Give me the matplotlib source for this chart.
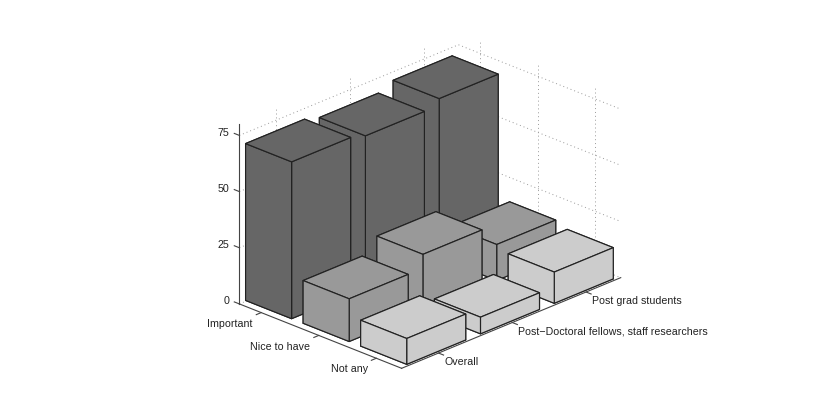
#!/usr/bin/env python3
"""3D bar chart: importance by career stage, drawn with mplot3d."""
import numpy as np
import matplotlib
matplotlib.use("Agg")
import matplotlib.pyplot as plt
from mpl_toolkits.mplot3d import proj3d

plt.rcParams["font.family"] = ["Liberation Sans", "DejaVu Sans"]

importance = ["Important", "Nice to have", "Not any"]
groups = ["Overall", "Post\u2212Doctoral fellows, staff researchers", "Post grad students"]
z_ticks = [0, 25, 50, 75]

# rows follow importance, columns follow groups
important_vals = [69.8, 67.8, 70.8]
nice_vals = [19, 25.2, 16]
notany_vals = [11.5, 7.4, 13.9]
bar_colors = ["#666666", "#999999", "#cccccc"]

XLIM = (0.62, 3.44)
YLIM = (0.5, 3.47)
ZLIM = (0, 80)
WIDTH = 0.8
LINE = "#222222"

fig = plt.figure(figsize=(8.30, 4.13), dpi=100)
ax = fig.add_axes([0.0114, 0.0, 1.0, 1.0], projection="3d", proj_type="ortho",
                  computed_zorder=False)
ax.view_init(elev=23.9, azim=-45.6)
ax.set_xticks([])
ax.set_yticks([])
ax.set_zticks([])
ax.set_xlim(*XLIM)
ax.set_ylim(*YLIM)
ax.set_zlim(*ZLIM)
ax.set_box_aspect((227, 313, 196.5), zoom=1.02)
ax.set_axis_off()
ax.patch.set_alpha(0)


def label(x, y, z, s, ha):
    # labels stay flat on the page, only their anchor comes from the 3D axes
    px, py, _ = proj3d.proj_transform(x, y, z, ax.get_proj())
    ax.text2D(px, py, s, ha=ha, va="center", fontsize=7.7, color="#222222")


# back walls, dotted
grid_kw = dict(color="#999999", lw=0.7, ls=(0, (1, 3)), zorder=1)
for z in z_ticks:
    ax.plot(XLIM, [YLIM[1]] * 2, [z] * 2, **grid_kw)
    ax.plot([XLIM[0]] * 2, YLIM, [z] * 2, **grid_kw)
for i in range(3):
    ax.plot([i + 1] * 2, [YLIM[1]] * 2, ZLIM, **grid_kw)
    ax.plot([XLIM[0]] * 2, [i + 1] * 2, ZLIM, **grid_kw)

# axis lines and ticks
axis_kw = dict(color="#444444", lw=0.8, zorder=2)
ax.plot([XLIM[0]] * 2, [YLIM[0]] * 2, ZLIM, **axis_kw)
ax.plot(XLIM, [YLIM[0]] * 2, [0, 0], **axis_kw)
ax.plot([XLIM[1]] * 2, YLIM, [0, 0], **axis_kw)
for z in z_ticks:
    ax.plot([XLIM[0], XLIM[0] - 0.088], [YLIM[0]] * 2, [z, z], **axis_kw)
    label(XLIM[0] - 0.143, YLIM[0] - 0.025, z, str(z), "right")
for i, name in enumerate(importance):
    ax.plot([i + 1, i + 1], [YLIM[0], YLIM[0] - 0.067], [0, 0], **axis_kw)
    label(i + 1 + 0.165, YLIM[0] - 0.243, 0, name, "right")
for i, name in enumerate(groups):
    ax.plot([XLIM[1], XLIM[1] + 0.088], [i + 1, i + 1], [0, 0], **axis_kw)
    label(XLIM[1] + 0.248, i + 1 - 0.112, 0, name, "left")

# bars back to front so the overlaps come out right
rows = [important_vals, nice_vals, notany_vals]
order = 3
for r, vals in enumerate(rows):
    for c in range(2, -1, -1):
        ax.bar3d(r + 1 - WIDTH / 2, c + 1 - WIDTH / 2, 0, WIDTH, WIDTH, vals[c],
                 color=bar_colors[r], edgecolor=LINE, linewidth=0.85,
                 shade=False, zorder=order)
        order += 1

fig.savefig("out.png", dpi=100)
